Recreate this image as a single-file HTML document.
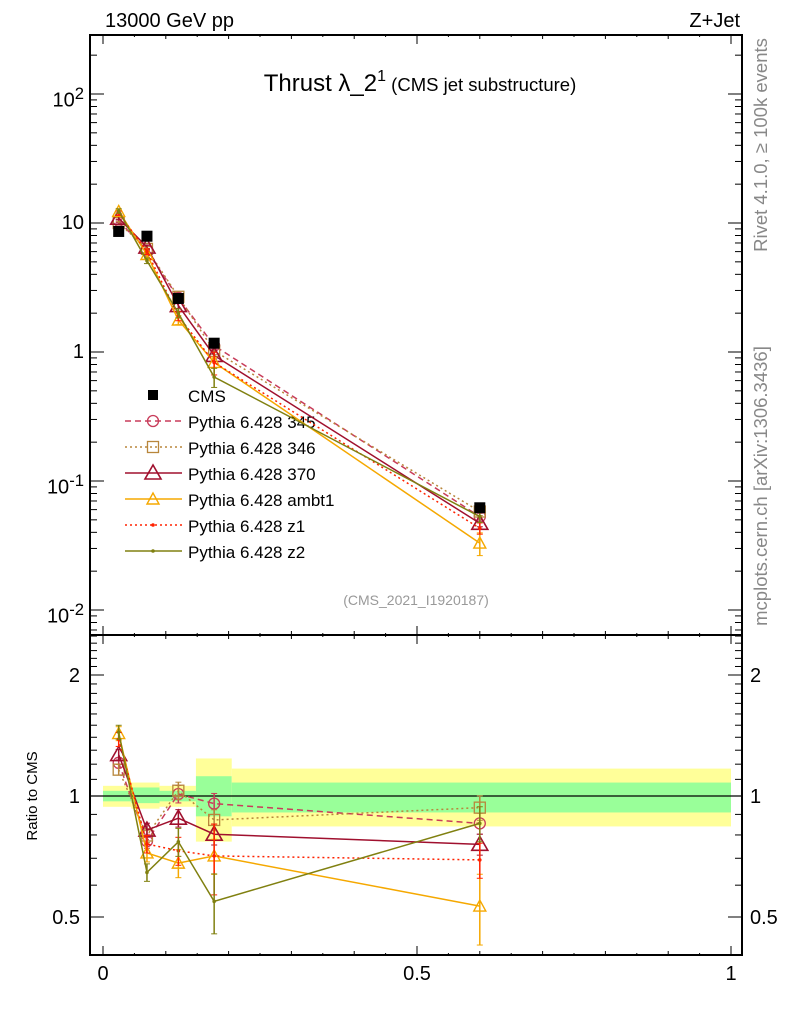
<!DOCTYPE html>
<html><head><meta charset="utf-8"><style>
html,body{margin:0;padding:0;background:#fff;}
svg{display:block;font-family:"Liberation Sans",sans-serif;}
</style></head><body>
<svg id="chart" width="786" height="1024" xmlns="http://www.w3.org/2000/svg">
<text x="105" y="27" font-size="20">13000 GeV pp</text>
<text x="740" y="27" font-size="20" text-anchor="end">Z+Jet</text>
<text x="420" y="91" font-size="24" text-anchor="middle">Thrust λ_2<tspan font-size="16" dy="-10">1</tspan><tspan font-size="18.5" dy="10"> (CMS jet substructure)</tspan></text>
<text x="416" y="605" font-size="14" fill="#999" text-anchor="middle">(CMS_2021_I1920187)</text>
<text transform="translate(767,145) rotate(-90)" font-size="18.5" fill="#888" text-anchor="middle">Rivet 4.1.0, ≥ 100k events</text>
<text transform="translate(767,486) rotate(-90)" font-size="18.5" fill="#888" text-anchor="middle">mcplots.cern.ch [arXiv:1306.3436]</text>
<text transform="translate(37,796) rotate(-90)" font-size="15" text-anchor="middle">Ratio to CMS</text>
<g id="g"></g>
</svg>
<script>
const xPoints = [0.025, 0.07, 0.12, 0.177, 0.6];
const binEdges = [0, 0.045, 0.09, 0.148, 0.205, 1.0];
const cmsValues = [8.6, 7.9, 2.6, 1.17, 0.062];
const statUp = [0.03, 0.05, 0.03, 0.12, 0.08];
const statDn = [0.03, 0.04, 0.03, 0.11, 0.09];
const totUp = [0.06, 0.08, 0.06, 0.24, 0.17];
const totDn = [0.06, 0.07, 0.06, 0.23, 0.16];
const v345 = [10.4, 6.1, 2.63, 1.12, 0.053];
const v346 = [10.0, 6.3, 2.68, 1.02, 0.058];
const v370 = [10.9, 6.5, 2.29, 0.94, 0.047];
const vAmbt1 = [12.3, 5.7, 1.77, 0.83, 0.033];
const vZ1 = [11.9, 6.0, 1.90, 0.83, 0.043];
const vZ2 = [12.4, 5.1, 2.0, 0.64, 0.053];
const e345 = [0.03, 0.04, 0.05, 0.06, 0.06];
const e346 = [0.03, 0.04, 0.05, 0.06, 0.07];
const e370 = [0.03, 0.04, 0.05, 0.06, 0.06];
const eAmbt1 = [0.04, 0.05, 0.08, 0.1, 0.2];
const eZ1 = [0.04, 0.05, 0.08, 0.2, 0.1];
const eZ2 = [0.04, 0.05, 0.08, 0.17, 0.1];
const mainTicks = [0.01, 0.1, 1, 10, 100];
const mainTickLabels = ["10<sup>-2</sup>", "10<sup>-1</sup>", "1", "10", "10<sup>2</sup>"];
const ratioTicks = [0.5, 1, 2];
const ratioTickLabels = ["0.5", "1", "2"];
const xTickLabels = ["0", "0.5", "1"];
const seriesNames = ["Pythia 6.428 345","Pythia 6.428 346","Pythia 6.428 370","Pythia 6.428 ambt1","Pythia 6.428 z1","Pythia 6.428 z2"];

const NS="http://www.w3.org/2000/svg";
const g=document.getElementById('g');
const L=90,R=742,T=35,MB=635,B=955;
const sx=x=>103+628*x;
const sy=v=>352-129*Math.log10(v);
const ry=r=>796-121*Math.log2(r);
function el(tag,attrs,parent){const e=document.createElementNS(NS,tag);for(const k in attrs)e.setAttribute(k,attrs[k]);(parent||g).appendChild(e);return e;}

binEdges.slice(0,-1).forEach((e0,i)=>{
  const x0=sx(e0),x1=sx(binEdges[i+1]);
  const y=el('rect',{x:x0,y:ry(1+totUp[i]),width:x1-x0,height:ry(1-totDn[i])-ry(1+totUp[i]),fill:'#ffff99'});
  
  
  const gr=el('rect',{x:x0,y:ry(1+statUp[i]),width:x1-x0,height:ry(1-statDn[i])-ry(1+statUp[i]),fill:'#99ff99'});
  
  
});
el('line',{x1:L,x2:R,y1:ry(1),y2:ry(1),stroke:'#000','stroke-width':1.2});

const f1=el('rect',{x:L,y:T,width:R-L,height:MB-T,fill:'none',stroke:'#000','stroke-width':2});


const f2=el('rect',{x:L,y:MB,width:R-L,height:B-MB,fill:'none',stroke:'#000','stroke-width':2});



for(let d=-3;d<=2;d++){for(let m=1;m<10;m++){const v=m*Math.pow(10,d);const y=sy(v);if(y<T||y>MB)continue;const len=m===1?14:7;
 el('line',{x1:L,x2:L+len,y1:y,y2:y,stroke:'#000','stroke-width':1});
 el('line',{x1:R,x2:R-len,y1:y,y2:y,stroke:'#000','stroke-width':1});}}
mainTicks.forEach((v,i)=>{const t=el('foreignObject',{x:20,y:sy(v)-14,width:64,height:28});
 t.innerHTML='<div xmlns="http://www.w3.org/1999/xhtml" style="font:20px Liberation Sans,sans-serif;text-align:right;line-height:28px">'+mainTickLabels[i]+'</div>';
 
 });
for(let r=0.5;r<=2.5001;r+=0.1){const y=ry(r);if(y<MB||y>B)continue;const maj=ratioTicks.some(t=>Math.abs(t-r)<1e-6);const len=maj?14:7;
 el('line',{x1:L,x2:L+len,y1:y,y2:y,stroke:'#000'});el('line',{x1:R,x2:R-len,y1:y,y2:y,stroke:'#000'});}
ratioTicks.forEach((v,i)=>{
 const a=el('text',{x:80,y:ry(v)+7,'font-size':20,'text-anchor':'end'});a.textContent=ratioTickLabels[i];
 
 
 const b=el('text',{x:750,y:ry(v)+7,'font-size':20});b.textContent=ratioTickLabels[i];
 
 });
for(let k=0;k<=20;k++){const x=sx(k*0.05);const len=k%10===0?9:(k%2===0?4:2);
 [[B,-1],[MB,1],[MB,-1],[T,1]].forEach(([y0,s])=>el('line',{x1:x,x2:x,y1:y0,y2:y0+s*len,stroke:'#000'}));}
[0,0.5,1].forEach((v,i)=>{const t=el('text',{x:sx(v),y:980,'font-size':20,'text-anchor':'middle'});t.textContent=xTickLabels[i];
 
 });

const series=[
 {v:v345,e:e345,c:'#c83c5a',dash:'6,4',m:'circle'},
 {v:v346,e:e346,c:'#b8863b',dash:'2,3',m:'square'},
 {v:v370,e:e370,c:'#a0102e',dash:'',m:'tri'},
 {v:vAmbt1,e:eAmbt1,c:'#f5a800',dash:'',m:'tri-small'},
 {v:vZ1,e:eZ1,c:'#ff2200',dash:'2,3',m:'dot'},
 {v:vZ2,e:eZ2,c:'#808010',dash:'',m:'dot'}];
function marker(m,x,y,c,p){
 if(m==='circle')return el('circle',{cx:x,cy:y,r:5.5,fill:'none',stroke:c,'stroke-width':1.3},p);
 if(m==='square')return el('rect',{x:x-5.5,y:y-5.5,width:11,height:11,fill:'none',stroke:c,'stroke-width':1.3},p);
 if(m==='tri')return el('polygon',{points:`${x},${y-8} ${x-8},${y+6} ${x+8},${y+6}`,fill:'none',stroke:c,'stroke-width':1.6},p);
 if(m==='tri-small')return el('polygon',{points:`${x},${y-6} ${x-6},${y+5} ${x+6},${y+5}`,fill:'none',stroke:c,'stroke-width':1.4},p);
 return el('circle',{cx:x,cy:y,r:1.8,fill:c},p);}
series.forEach((s,si)=>{
 const grp=el('g',{});
 
 
 const ratios=s.v.map((v,i)=>v/cmsValues[i]);
 const p1=xPoints.map((x,i)=>sx(x)+','+sy(s.v[i])).join(' ');
 const p2=xPoints.map((x,i)=>sx(x)+','+ry(ratios[i])).join(' ');
 [p1,p2].forEach(p=>el('polyline',{points:p,fill:'none',stroke:s.c,'stroke-width':1.5,'stroke-dasharray':s.dash},grp));
 xPoints.forEach((x,i)=>{
  [[sy,s.v[i]],[ry,ratios[i]]].forEach(([f,v])=>{
   const X=sx(x);
   el('line',{x1:X,x2:X,y1:f(v*(1+s.e[i])),y2:f(v*(1-s.e[i])),stroke:s.c,'stroke-width':1.5},grp);
   el('line',{x1:X-3,x2:X+3,y1:f(v*(1+s.e[i])),y2:f(v*(1+s.e[i])),stroke:s.c},grp);
   el('line',{x1:X-3,x2:X+3,y1:f(v*(1-s.e[i])),y2:f(v*(1-s.e[i])),stroke:s.c},grp);
   marker(s.m,X,f(v),s.c,grp);});
 });
 const ly=421+26*si;
 el('line',{x1:125,x2:182,y1:ly,y2:ly,stroke:s.c,'stroke-width':1.5,'stroke-dasharray':s.dash},grp);
 marker(s.m,153,ly,s.c,grp);
 const t=el('text',{x:188,y:ly+7,'font-size':17});t.textContent=seriesNames[si];
 
 
});
xPoints.forEach((x,i)=>{const r=el('rect',{x:sx(x)-5.5,y:sy(cmsValues[i])-5.5,width:11,height:11,fill:'#000'});
 
 });
el('rect',{x:148,y:390,width:10,height:10,fill:'#000'});
const ct=el('text',{x:188,y:402,'font-size':17});ct.textContent='CMS';


</script>
</body></html>
